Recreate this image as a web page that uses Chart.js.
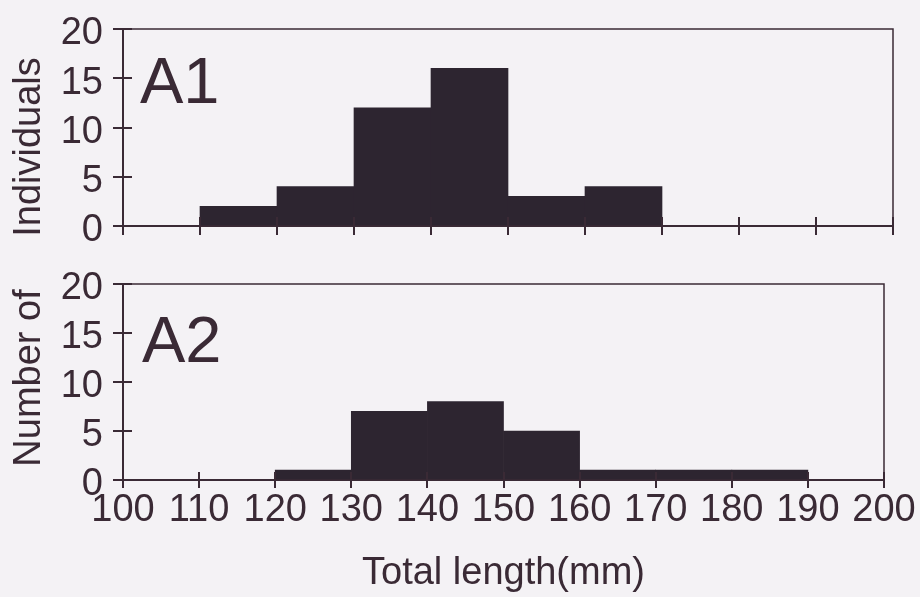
<!DOCTYPE html>
<html>
<head>
<meta charset="utf-8">
<script src="https://cdn.jsdelivr.net/npm/chart.js@4/dist/chart.umd.min.js"></script>
<style>
  html, body { margin: 0; padding: 0; background: #f4f2f5; }
  #wrap { position: relative; width: 920px; height: 597px; overflow: hidden; }
  canvas { position: absolute; left: 0; }
  #top { top: 0; }
  #bottom { top: 255px; }
</style>
</head>
<body>
<div id="wrap">
  <canvas id="top" width="920" height="255"></canvas>
  <canvas id="bottom" width="920" height="342"></canvas>
</div>
<script>
// Length classes (lower edge of each 10 mm bin) and counts per sample
const binWidth = 10;
const binsA1 = [110, 120, 130, 140, 150, 160];
const countsA1 = [2, 4, 12, 16, 3, 4];
const binsA2 = [120, 130, 140, 150, 160, 170, 180];
const countsA2 = [1, 7, 8, 5, 1, 1, 1];

const xMin = 100, xMax = 200, xStep = 10;
const yMin = 0, yMax = 20, yStep = 5;

const panelA1 = 'A1';
const panelA2 = 'A2';
const yTitleUpper = 'Individuals';
const yTitleLower = 'Number of';
const xTitle = 'Total length(mm)';

const INK = '#3a2a35';
const BAR = '#2d2530';
const FONT = '"Liberation Sans", Arial, sans-serif';

function toPoints(bins, counts) {
  return bins.map((b, i) => ({ x: b + binWidth / 2, y: counts[i] }));
}

// Frame (top/right), tick halves that cross into the plot, panel tag, y title piece
const framePlugin = {
  id: 'frame',
  afterDraw(chart, args, opts) {
    const { ctx, chartArea: a, scales: { x, y } } = chart;
    ctx.save();
    ctx.strokeStyle = INK;
    ctx.lineWidth = 1.5;
    ctx.beginPath();
    ctx.moveTo(a.left, a.top);
    ctx.lineTo(a.right, a.top);
    ctx.lineTo(a.right, a.bottom);
    ctx.stroke();

    ctx.lineWidth = 2;
    ctx.beginPath();
    x.ticks.forEach(t => {
      const px = Math.round(x.getPixelForValue(t.value));
      ctx.moveTo(px, a.bottom);
      ctx.lineTo(px, a.bottom - opts.xIn);
    });
    y.ticks.forEach(t => {
      const py = Math.round(y.getPixelForValue(t.value));
      ctx.moveTo(a.left, py);
      ctx.lineTo(a.left + opts.yIn, py);
    });
    ctx.stroke();

    ctx.fillStyle = INK;
    ctx.font = '65px ' + FONT;
    ctx.textAlign = 'left';
    ctx.textBaseline = 'alphabetic';
    ctx.fillText(opts.tag, opts.tagX, opts.tagY);

    ctx.font = '38px ' + FONT;
    ctx.translate(opts.titleX, opts.titleY);
    ctx.rotate(-Math.PI / 2);
    ctx.textAlign = 'center';
    ctx.fillText(opts.title, 0, 0);
    ctx.restore();
  }
};

function makeChart(id, bins, counts, cfg) {
  return new Chart(document.getElementById(id), {
    type: 'bar',
    data: {
      datasets: [{
        data: toPoints(bins, counts),
        backgroundColor: BAR,
        borderColor: BAR,
        borderWidth: 0,
        barPercentage: 1,
        categoryPercentage: 1
      }]
    },
    options: {
      responsive: false,
      animation: false,
      events: [],
      layout: { padding: cfg.padding },
      plugins: {
        legend: { display: false },
        tooltip: { enabled: false },
        frame: cfg.frame
      },
      scales: {
        x: {
          type: 'linear',
          min: xMin, max: xMax,
          offset: false,
          afterFit: s => { s.height = cfg.xHeight; },
          grid: { display: true, drawOnChartArea: false, drawTicks: true, tickLength: cfg.xTick, color: INK, lineWidth: 2, offset: false },
          border: { display: true, color: INK, width: 2 },
          ticks: {
            display: cfg.xLabels,
            stepSize: xStep,
            autoSkip: false,
            maxRotation: 0,
            padding: cfg.xPad,
            color: INK,
            font: { family: FONT, size: 38, lineHeight: 1 }
          },
          title: {
            display: cfg.xLabels,
            text: xTitle,
            color: INK,
            font: { family: FONT, size: 38, lineHeight: 1 },
            padding: { top: 0, bottom: cfg.xTitlePad }
          }
        },
        y: {
          min: yMin, max: yMax,
          afterFit: s => { s.width = 123; },
          grid: { display: true, drawOnChartArea: false, drawTicks: true, tickLength: 10, color: INK, lineWidth: 2 },
          border: { display: true, color: INK, width: 2 },
          ticks: {
            stepSize: yStep,
            padding: 10,
            labelOffset: 5,
            color: INK,
            font: { family: FONT, size: 38, lineHeight: 1 }
          }
        }
      }
    },
    plugins: [framePlugin]
  });
}

makeChart('top', binsA1, countsA1, {
  padding: { left: 0, top: 24, right: 27, bottom: 0 },
  xHeight: 28, xTick: 9, xLabels: false, xPad: 0, xTitlePad: 0,
  frame: { xIn: 9, yIn: 9, tag: panelA1, tagX: 140, tagY: 103, title: yTitleUpper, titleX: 40, titleY: 147 }
});

makeChart('bottom', binsA2, countsA2, {
  padding: { left: 0, top: 29, right: 36, bottom: 0 },
  xHeight: 117, xTick: 8, xLabels: true, xPad: 4, xTitlePad: 4,
  frame: { xIn: 8, yIn: 9, tag: panelA2, tagX: 142, tagY: 107, title: yTitleLower, titleX: 40, titleY: 123 }
});
</script>
</body>
</html>
